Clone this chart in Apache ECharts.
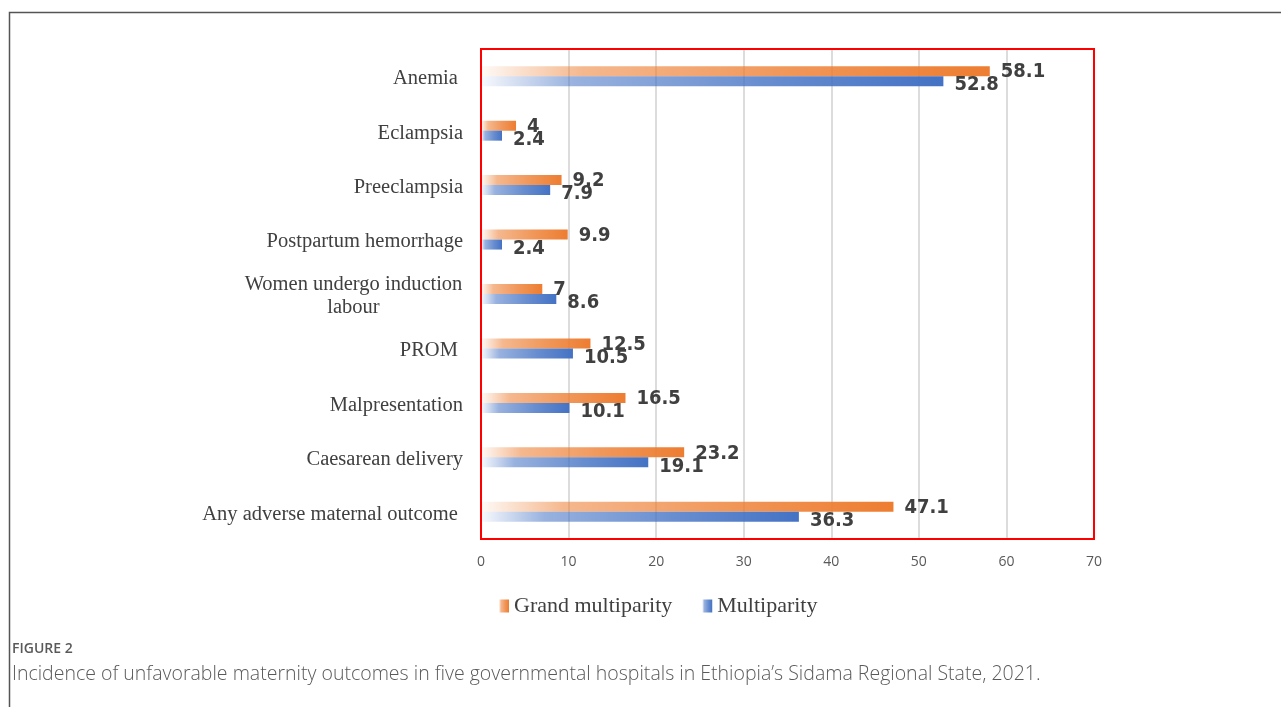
<!DOCTYPE html>
<html><head><meta charset="utf-8">
<script src="https://cdn.jsdelivr.net/npm/echarts@6/dist/echarts.min.js"></script>
<style>html,body{margin:0;padding:0;background:#fff}#c{width:1281px;height:707px}</style>
</head><body><div id="c"></div>
<script>
const categories = ["Anemia ", "Eclampsia", "Preeclampsia", "Postpartum hemorrhage", "Women undergo induction\nlabour", "PROM ", "Malpresentation", "Caesarean delivery", "Any adverse maternal outcome "];
const grandMultiparity = [58.1, 4, 9.2, 9.9, 7, 12.5, 16.5, 23.2, 47.1];
const multiparity = [52.8, 2.4, 7.9, 2.4, 8.6, 10.5, 10.1, 19.1, 36.3];
const xTicks = [0, 10, 20, 30, 40, 50, 60, 70];
const seriesNames = ["Grand multiparity", "Multiparity"];
const captionTitle = "FIGURE 2";
const captionText = "Incidence of unfavorable maternity outcomes in five governmental hospitals in Ethiopia\u2019s Sidama Regional State, 2021.";

function grad(r, g, b) {
  return new echarts.graphic.LinearGradient(0, 0, 1, 0, [
    {offset: 0, color: `rgba(${r},${g},${b},0.04)`},
    {offset: 0.2, color: `rgba(${r},${g},${b},0.55)`},
    {offset: 0.6, color: `rgba(${r},${g},${b},0.8)`},
    {offset: 1, color: `rgba(${r},${g},${b},1)`}
  ]);
}
const orangeG = grad(237, 125, 49);
const blueG = grad(68, 114, 196);
const labelFont = {fontFamily: '"Liberation Sans Narrow", "DejaVu Sans Condensed", sans-serif', fontWeight: 'bold', fontSize: 20, color: '#404040'};
const serif = '"Liberation Serif", "Times New Roman", serif';

const chart = echarts.init(document.getElementById('c'), null, {renderer: 'canvas'});
chart.setOption({
  animation: false,
  backgroundColor: '#fff',
  grid: {left: 481, right: 187, top: 49, bottom: 168, show: true, borderColor: '#ff0000', borderWidth: 2, backgroundColor: 'transparent', z: 5},
  xAxis: {
    type: 'value', min: 0, max: 70, interval: 10,
    axisLine: {show: false}, axisTick: {show: false},
    splitLine: {lineStyle: {color: '#d0d0d0', width: 1.5}},
    axisLabel: {margin: 16, color: '#595959', fontSize: 14, fontFamily: '"Open Sans", sans-serif',
      formatter: v => xTicks.includes(v) ? String(v) : ''}
  },
  yAxis: {
    type: 'category', data: categories, inverse: true,
    axisLine: {show: false}, axisTick: {show: false},
    axisLabel: {margin: 18, color: '#404040', fontSize: 20.5, fontFamily: serif, lineHeight: 23, padding: [5, 0, 0, 0],
      formatter: v => v.indexOf('\n') >= 0 ? v.split('\n').map(s => '{c|' + s + '}').join('\n') : v,
      rich: {c: {width: 219, align: 'center', fontSize: 20.5, fontFamily: serif, color: '#404040', lineHeight: 23}}
    }
  },
  legend: {
    left: 494, top: 590, itemGap: 30, itemWidth: 10, itemHeight: 13,
    icon: 'rect',
    textStyle: {fontSize: 22, color: '#404040', fontFamily: serif},
    data: [{name: seriesNames[0], itemStyle: {color: orangeG}}, {name: seriesNames[1], itemStyle: {color: blueG}}]
  },
  series: [
    {name: seriesNames[0], type: 'bar', data: grandMultiparity, barWidth: 10, barGap: '0%', barCategoryGap: '60%',
      itemStyle: {color: orangeG},
      label: {show: true, position: 'right', distance: 11, offset: [0, 1], ...labelFont}},
    {name: seriesNames[1], type: 'bar', data: multiparity, barWidth: 10, barGap: '0%',
      itemStyle: {color: blueG},
      label: {show: true, position: 'right', distance: 11, offset: [0, 4], ...labelFont}}
  ],
  graphic: [
    {type: 'polyline', shape: {points: [[9.5, 707], [9.5, 12.5], [1281, 12.5]]}, style: {stroke: '#555', lineWidth: 1.5, fill: null}},
    {type: 'text', left: 12, top: 642, style: {text: captionTitle, fontSize: 14, fontWeight: 600, fill: '#5a5a5a', fontFamily: '"Open Sans", sans-serif'}},
    {type: 'text', left: 12, top: 664, style: {text: captionText, fontSize: 19.5, fontWeight: 300, fill: '#5a5a5a', fontFamily: '"Open Sans", sans-serif'}}
  ]
});
</script></body></html>
